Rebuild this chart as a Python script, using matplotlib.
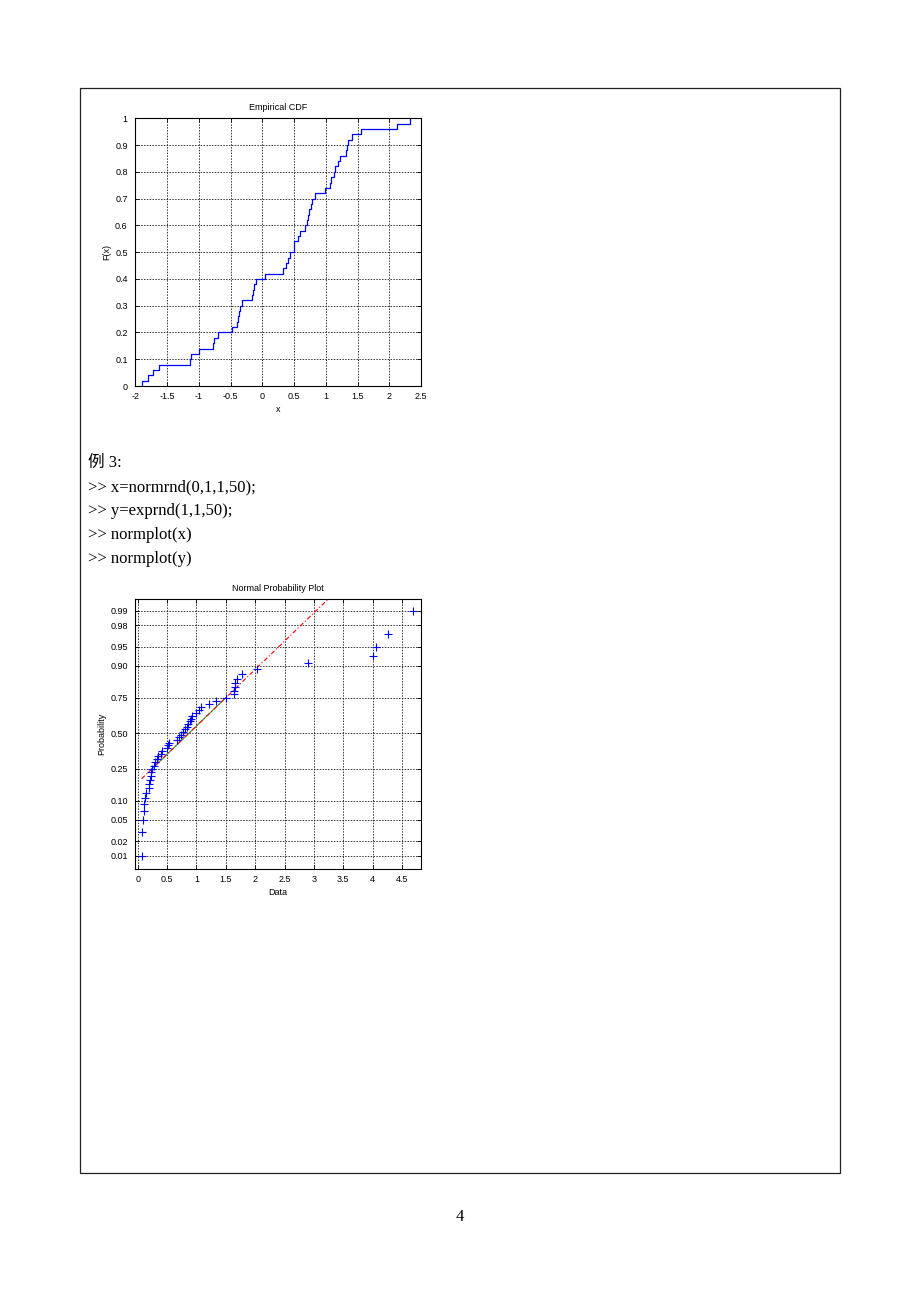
import numpy as np
import matplotlib
matplotlib.use("Agg")
import matplotlib.pyplot as plt
from matplotlib.patches import Rectangle
from statistics import NormalDist

# ---------------- data ----------------
# Example 2: sample whose empirical CDF is drawn (sorted jump locations)
cdf_x = [-1.900, -1.800, -1.727, -1.622, -1.133, -1.118, -0.992, -0.776, -0.755, -0.692,
         -0.472, -0.393, -0.377, -0.361, -0.351, -0.314, -0.157, -0.141, -0.125, -0.099,
         0.038, 0.321, 0.379, 0.405, 0.437, 0.500, 0.505, 0.563, 0.594, 0.679,
         0.700, 0.715, 0.736, 0.773, 0.789, 0.836, 0.988, 1.062, 1.088, 1.135,
         1.151, 1.199, 1.220, 1.319, 1.330, 1.356, 1.419, 1.550, 2.123, 2.333]

# Example 3: exponential sample drawn in the normal probability plot
normplot_y = [0.068, 0.079, 0.096, 0.108, 0.108, 0.130, 0.142, 0.187, 0.198, 0.210,
              0.221, 0.227, 0.244, 0.278, 0.295, 0.323, 0.351, 0.397, 0.414, 0.505,
              0.522, 0.533, 0.663, 0.709, 0.737, 0.777, 0.805, 0.833, 0.862, 0.890,
              0.907, 0.930, 0.986, 1.043, 1.077, 1.207, 1.327, 1.497, 1.638, 1.638,
              1.650, 1.655, 1.695, 1.769, 2.024, 2.900, 3.997, 4.053, 4.263, 4.683]

cdf_xticks = [-2, -1.5, -1, -0.5, 0, 0.5, 1, 1.5, 2, 2.5]
cdf_xticklabels = ["-2", "-1.5", "-1", "-0.5", "0", "0.5", "1", "1.5", "2", "2.5"]
cdf_yticks = [0, 0.1, 0.2, 0.3, 0.4, 0.5, 0.6, 0.7, 0.8, 0.9, 1]
cdf_yticklabels = ["0", "0.1", "0.2", "0.3", "0.4", "0.5", "0.6", "0.7", "0.8", "0.9", "1"]

np_xticks = [0, 0.5, 1, 1.5, 2, 2.5, 3, 3.5, 4, 4.5]
np_xticklabels = ["0", "0.5", "1", "1.5", "2", "2.5", "3", "3.5", "4", "4.5"]
np_yticks = [0.01, 0.02, 0.05, 0.10, 0.25, 0.50, 0.75, 0.90, 0.95, 0.98, 0.99]
np_yticklabels = ["0.01", "0.02", "0.05", "0.10", "0.25", "0.50", "0.75", "0.90", "0.95", "0.98", "0.99"]

doc_lines = ["例 3:", ">> x=normrnd(0,1,1,50);", ">> y=exprnd(1,1,50);",
             ">> normplot(x)", ">> normplot(y)"]
page_number = "4"

# ---------------- figure ----------------
W, H = 920, 1302
fig = plt.figure(figsize=(W / 100, H / 100), dpi=100)
fig.patch.set_facecolor("white")

def fx(px):
    return px / W

def fy(py):
    return 1 - py / H

# page frame
fig.patches.append(Rectangle((fx(80), fy(1173)), fx(840) - fx(80), fy(88) - fy(1173),
                             transform=fig.transFigure, fill=False, edgecolor="#222222",
                             linewidth=0.9))

ui_family = ["Liberation Sans", "DejaVu Sans"]
fs = 6.5
grid_kw = dict(color="0.1", linestyle=(0, (1.8, 1.6)), linewidth=0.6)


def style_axes(ax):
    for s in ax.spines.values():
        s.set_linewidth(0.8)
        s.set_color("black")
    ax.tick_params(direction="in", length=3, width=0.6, top=True, right=True,
                   labelsize=fs)
    ax.tick_params(axis="x", pad=4.5)
    ax.tick_params(axis="y", pad=5.5)
    for lab in ax.get_xticklabels() + ax.get_yticklabels():
        lab.set_family(ui_family)
    ax.grid(True, **grid_kw)
    ax.set_axisbelow(True)

# ---------- Empirical CDF ----------
ax1 = fig.add_axes([fx(135.3), fy(386), fx(421) - fx(135.3), fy(118.3) - fy(386)])
xs = np.sort(np.array(cdf_x))
n1 = len(xs)
levels = np.arange(1, n1 + 1) / n1
ax1.step(np.concatenate([[xs[0]], xs]), np.concatenate([[0.0], levels]),
         where="post", color="blue", linewidth=0.9)
ax1.set_xlim(-2, 2.5)
ax1.set_ylim(0, 1)
ax1.set_xticks(cdf_xticks)
ax1.set_xticklabels(cdf_xticklabels)
ax1.set_yticks(cdf_yticks)
ax1.set_yticklabels(cdf_yticklabels)
style_axes(ax1)
ax1.set_title("Empirical CDF", fontsize=fs, family=ui_family, pad=6)
ax1.set_xlabel("x", fontsize=fs, family=ui_family, labelpad=3)
ax1.set_ylabel("F(x)", fontsize=fs, family=ui_family, labelpad=3)

# ---------- Normal probability plot ----------
_nd = NormalDist()
_ppf = np.vectorize(_nd.inv_cdf, otypes=[float])
_cdf = np.vectorize(_nd.cdf, otypes=[float])


def fwd(p):
    p = np.clip(np.asarray(p, dtype=float), 1e-12, 1 - 1e-12)
    return _ppf(p)


def inv(z):
    return _cdf(np.asarray(z, dtype=float))


ax2 = fig.add_axes([fx(135.3), fy(869), fx(421) - fx(135.3), fy(599) - fy(869)])
ax2.set_yscale("function", functions=(fwd, inv))
ys = np.sort(np.array(normplot_y))
n2 = len(ys)
pp = (np.arange(1, n2 + 1) - 0.5) / n2  # plotting positions used by normplot
# reference line through the quartiles (as normplot does)
q1, q3 = np.percentile(ys, [25, 75], method="hazen")
z1, z3 = _nd.inv_cdf(0.25), _nd.inv_cdf(0.75)
slope = (z3 - z1) / (q3 - q1)
xe = np.array([ys.min(), ys.max()])
ze = z1 + slope * (xe - q1)
ax2.plot([q1, q3], [0.25, 0.75], color="#22aa22", linewidth=0.8, zorder=2)
ax2.plot(xe, inv(ze), color="red", linestyle=(0, (4, 2, 1, 2)), linewidth=0.8, zorder=3)
ax2.plot(ys, pp, linestyle="none", marker="+", color="blue", markersize=6,
         markeredgewidth=0.8, zorder=4)
ax2.set_xlim(-0.04, 4.82)
ax2.set_ylim(float(inv(-2.579)), float(inv(2.554)))
ax2.set_xticks(np_xticks)
ax2.set_xticklabels(np_xticklabels)
ax2.set_yticks(np_yticks)
ax2.set_yticklabels(np_yticklabels)
ax2.yaxis.set_minor_locator(matplotlib.ticker.NullLocator())
style_axes(ax2)
ax2.set_title("Normal Probability Plot", fontsize=fs, family=ui_family, pad=6)
ax2.set_xlabel("Data", fontsize=fs, family=ui_family, labelpad=3)
ax2.set_ylabel("Probability", fontsize=fs, family=ui_family, labelpad=3)

# ---------- document text ----------
doc_family = ["Liberation Serif", "Noto Sans CJK SC", "DejaVu Serif"]
line_y = [463, 487, 511, 535, 559]
for txt, py in zip(doc_lines, line_y):
    fig.text(fx(88), fy(py), txt, fontsize=12, family=doc_family,
             ha="left", va="center")
fig.text(fx(460), fy(1217), page_number, fontsize=12, family=doc_family,
         ha="center", va="center")

fig.savefig("out.png", dpi=100, facecolor="white")
